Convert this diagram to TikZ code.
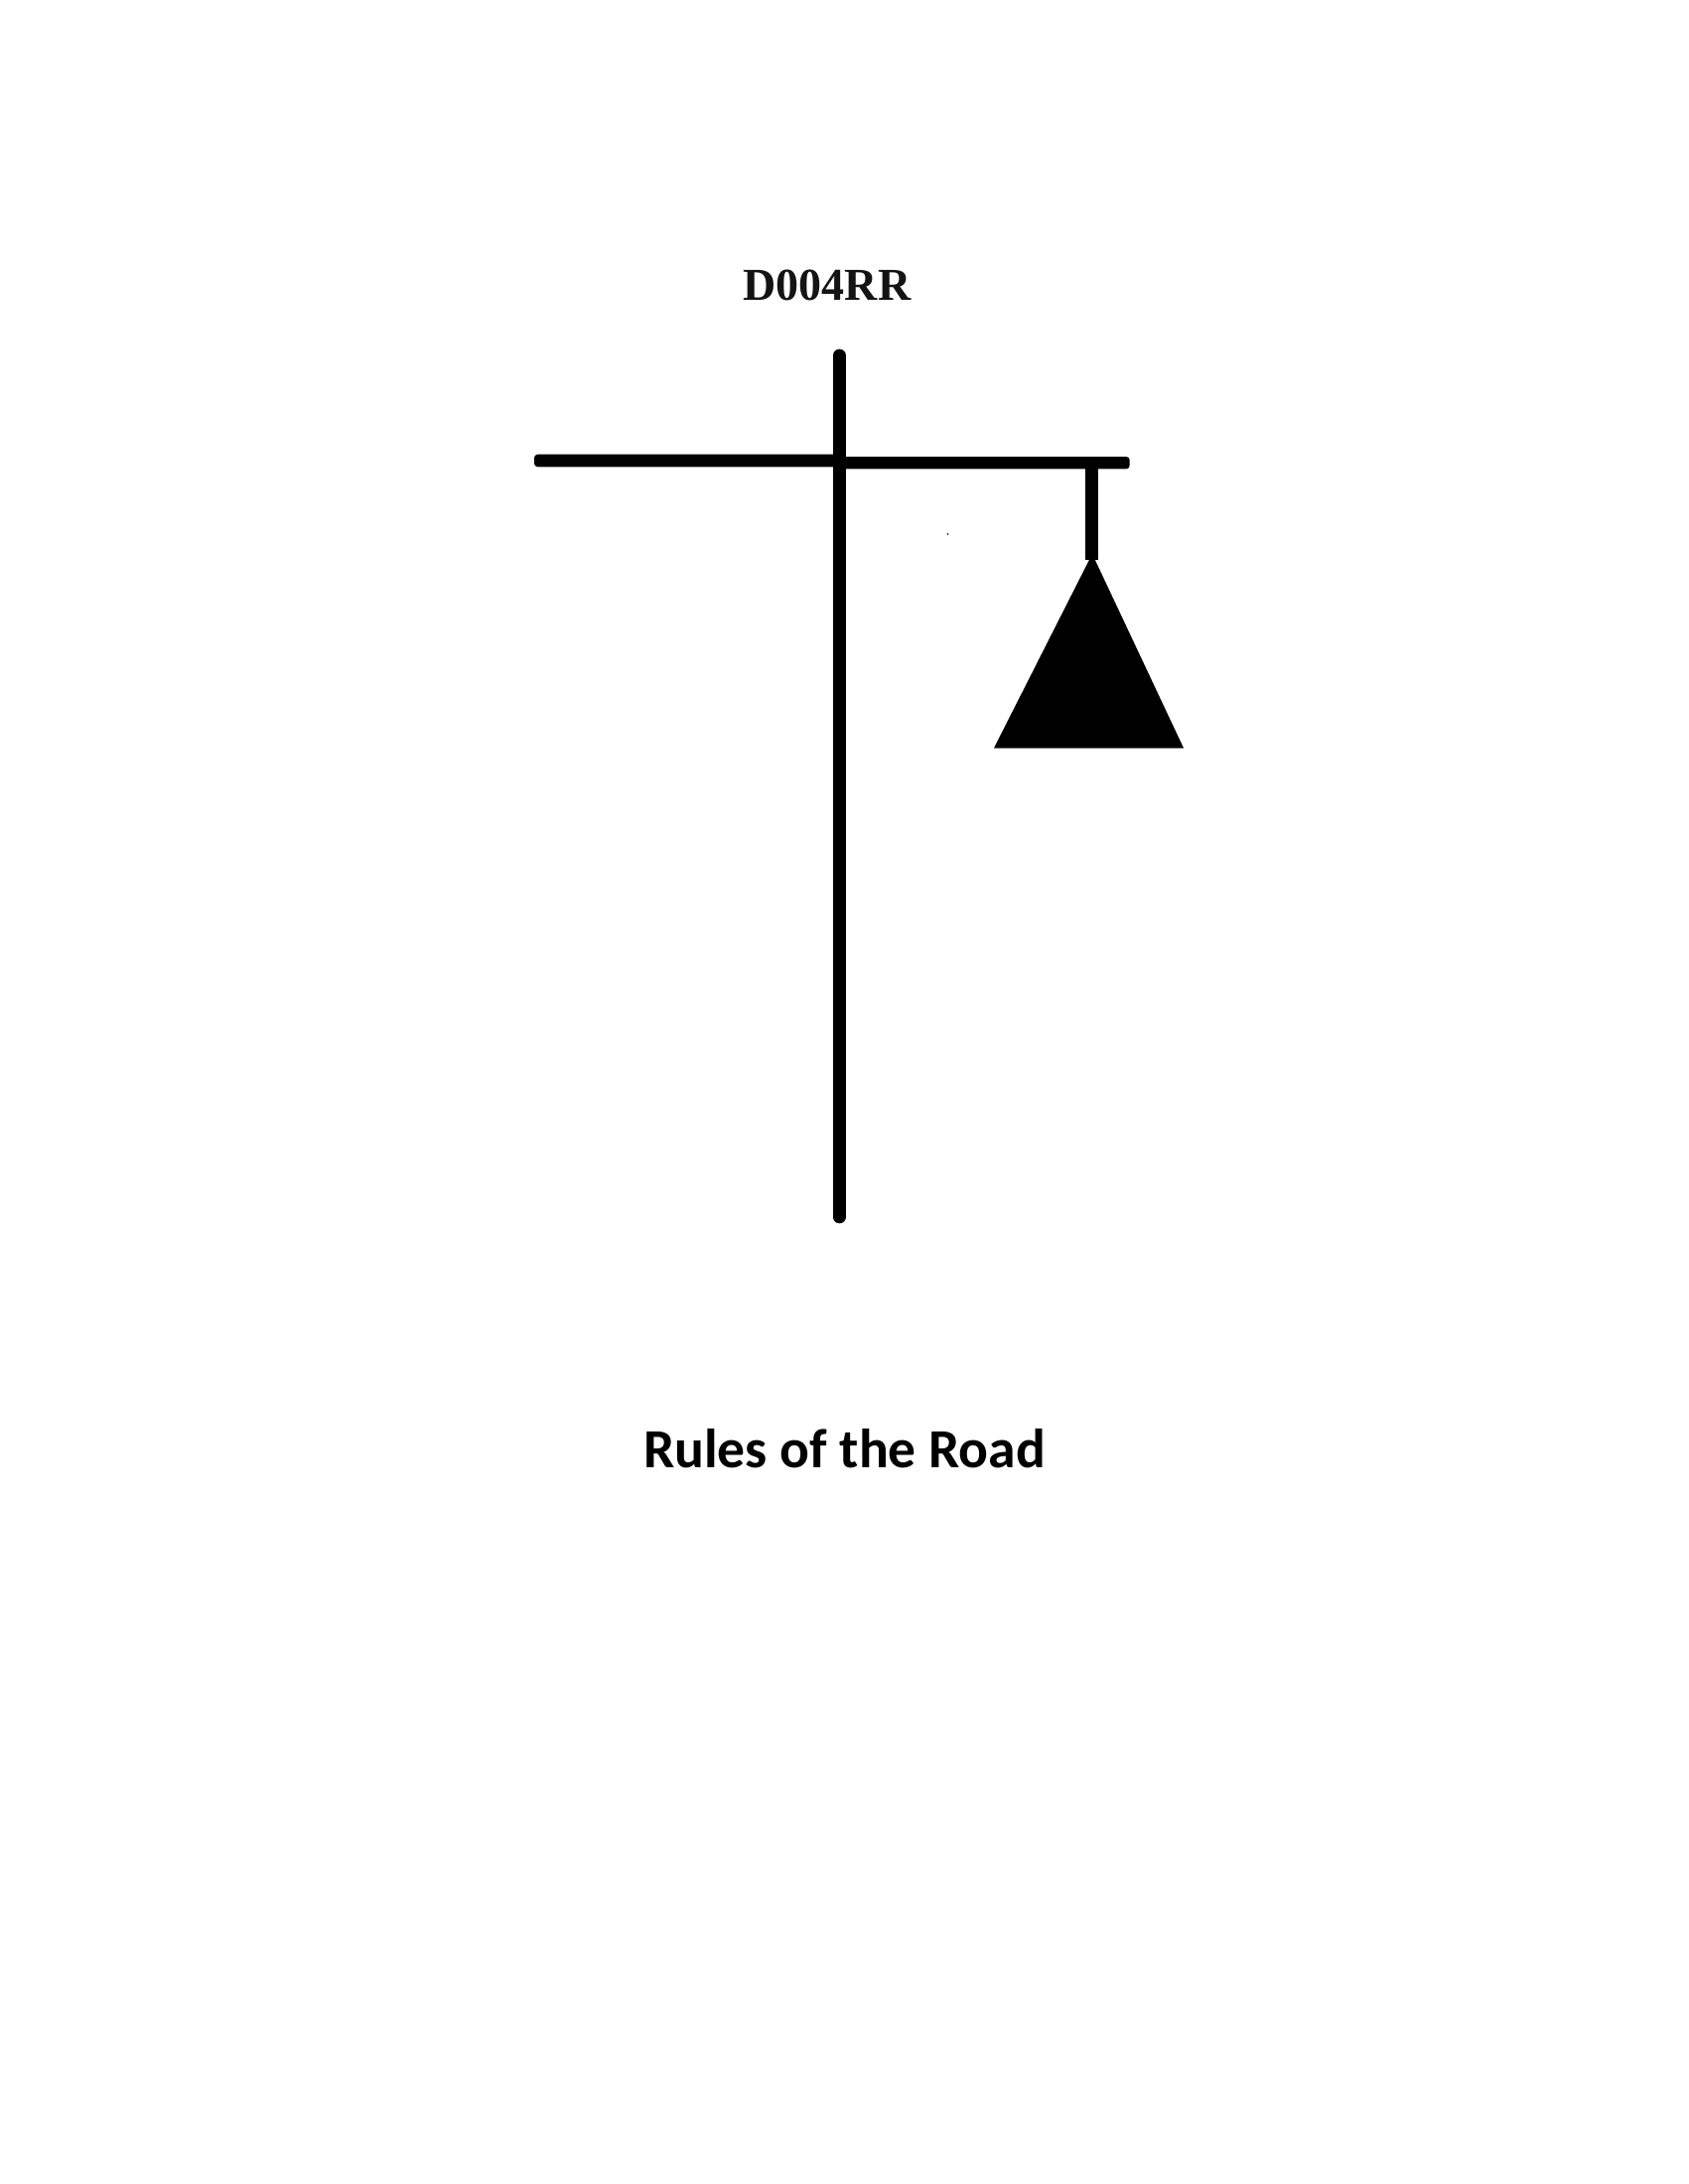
\documentclass[tikz,border=0pt]{standalone}
\usepackage{fontspec}
\setmainfont{Liberation Serif}
\newfontfamily\titlefont{Carlito}
\tikzset{
  bar/.style={line width=12.7pt,line cap=round,black},
  crossbar/.style={fill=black,draw=none,rounded corners=3.5pt},
  hanger/.style={line width=12.7pt,line cap=butt,black},
  weight/.style={fill=black,draw=none},
  codelabel/.style={inner sep=0pt,anchor=base,font=\fontsize{46}{46}\selectfont\bfseries,text=black!92},
  titlelabel/.style={inner sep=0pt,anchor=base,font=\fontsize{55.6}{55.6}\selectfont\titlefont\bfseries,text=black}
}
\begin{document}
\begin{tikzpicture}[x=1pt,y=-1pt]
\useasboundingbox (0,0) rectangle (1700,2200);
\fill[white] (0,0) rectangle (1700,2200);
\coordinate (vtop) at (845.3,358);
\coordinate (vbot) at (845.3,1226);
\coordinate (leftA) at (538,457.7);
\coordinate (leftB) at (850,470.3);
\coordinate (rightA) at (840,460);
\coordinate (rightB) at (1137.7,472.4);
\coordinate (hangtop) at (1099.7,470);
\coordinate (hangbot) at (1099.7,564);
\coordinate (apex) at (1100,558);
\coordinate (baseleft) at (1001,753.5);
\coordinate (baseright) at (1192,753.5);
\draw[bar] (vtop) -- (vbot);
\fill[crossbar] (leftA) rectangle (leftB);
\fill[crossbar] (rightA) rectangle (rightB);
\draw[hanger] (hangtop) -- (hangbot);
\fill[weight] (apex) -- (baseright) -- (baseleft) -- cycle;
\fill[black!70] (954.5,538) circle (1.2);
\node[codelabel] (code) at (833,302) {D004RR};
\node[titlelabel] (title) at (850.5,1478) {Rules of the Road};
\end{tikzpicture}
\end{document}
